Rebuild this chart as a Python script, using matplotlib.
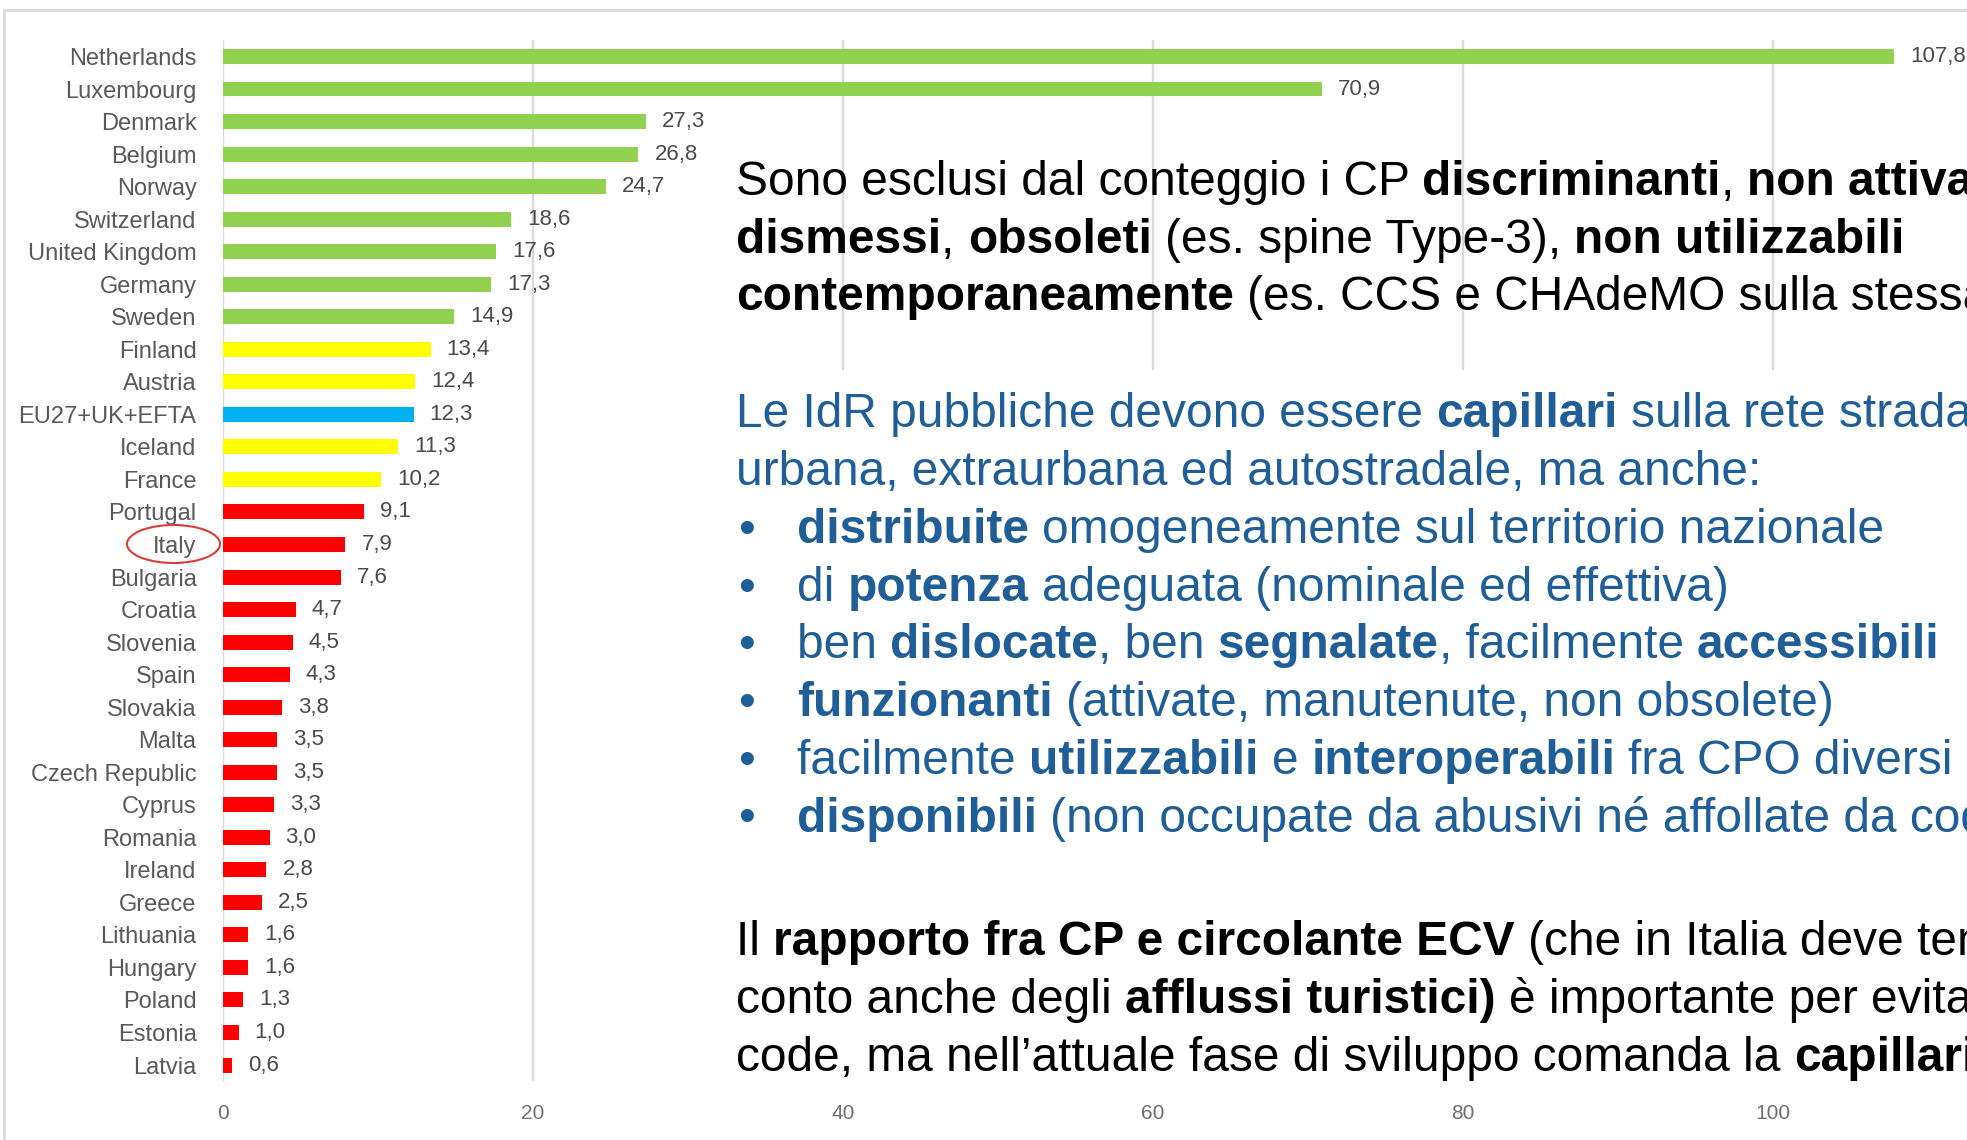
import matplotlib
matplotlib.use('Agg')
import matplotlib.pyplot as plt
from matplotlib.patches import Ellipse, Rectangle
from matplotlib.lines import Line2D
from matplotlib.transforms import IdentityTransform

# data (charging points per 100 km / ratio)
countries = ['Netherlands', 'Luxembourg', 'Denmark', 'Belgium', 'Norway', 'Switzerland',
             'United Kingdom', 'Germany', 'Sweden', 'Finland', 'Austria', 'EU27+UK+EFTA',
             'Iceland', 'France', 'Portugal', 'Italy', 'Bulgaria', 'Croatia', 'Slovenia',
             'Spain', 'Slovakia', 'Malta', 'Czech Republic', 'Cyprus', 'Romania', 'Ireland',
             'Greece', 'Lithuania', 'Hungary', 'Poland', 'Estonia', 'Latvia']
values = [107.8, 70.9, 27.3, 26.8, 24.7, 18.6, 17.6, 17.3, 14.9, 13.4, 12.4, 12.3,
          11.3, 10.2, 9.1, 7.9, 7.6, 4.7, 4.5, 4.3, 3.8, 3.5, 3.5, 3.3, 3.0, 2.8,
          2.5, 1.6, 1.6, 1.3, 1.0, 0.6]
groups = ['high'] * 9 + ['mid', 'mid', 'avg', 'mid', 'mid'] + ['low'] * 18
xticks = [0, 20, 40, 60, 80, 100]

group_colors = {'high': '#92D050', 'mid': '#FFFF00', 'avg': '#00B0F0', 'low': '#FF0000'}

W, H = 1967, 1140
fig = plt.figure(figsize=(W / 100, H / 100), dpi=100)

LABEL_FONT = 'Liberation Sans'
ax_left, ax_top, ax_bot = 223, 40.2, 1081.3
ax = fig.add_axes([ax_left / W, 1 - ax_bot / H, 1 - ax_left / W, (ax_bot - ax_top) / H])
ypos = list(range(len(countries)))
ax.barh(ypos, values, height=0.46, color=[group_colors[g] for g in groups], zorder=2)
ax.set_ylim(len(countries) - 0.5, -0.5)
ax.set_xlim(0, 112.5)
ax.set_xticks(xticks)
ax.set_xticklabels([str(t) for t in xticks], family=LABEL_FONT)
ax.set_yticks(ypos)
ax.set_yticklabels(countries, family=LABEL_FONT)
ax.tick_params(axis='y', length=0, pad=19, labelsize=17, labelcolor='#595959')
ax.tick_params(axis='x', length=0, pad=16, labelsize=15, labelcolor='#6F6F6F')
ax.grid(axis='x', color='#D9D9D9', lw=1.6)
ax.set_axisbelow(True)
for s in ax.spines.values():
    s.set_visible(False)

for i, v in enumerate(values):
    ax.annotate(f'{v:.1f}'.replace('.', ','), (v, i), xytext=(11.5, 0),
                textcoords='offset points', va='center', ha='left',
                fontsize=16, color='#4A4A4A', family=LABEL_FONT)

# slide frame and the white text box that hides the grid
fig.add_artist(Line2D([4 / W, 1], [1 - 10 / H] * 2, transform=fig.transFigure,
                      color='#DDDDDD', lw=2.2, zorder=3))
fig.add_artist(Line2D([4 / W] * 2, [0, 1 - 10 / H], transform=fig.transFigure,
                      color='#DDDDDD', lw=2.2, zorder=3))
fig.add_artist(Rectangle((700 / W, 1 - 1092 / H), 1 - 700 / W, (1092 - 370) / H,
                         transform=fig.transFigure, facecolor='white',
                         edgecolor='none', zorder=5))

# circle around Italy
fig.add_artist(Ellipse((173.5 / W, 1 - 544 / H), 93 / W, 38 / H, transform=fig.transFigure,
                       facecolor='none', edgecolor='#E03A3A', lw=1.5, zorder=6))

# slide text
FONT = 'Liberation Sans'
FS = 34.5
renderer = fig.canvas.get_renderer()


def text_w(s, weight):
    t = fig.text(0, 0, s, fontsize=FS, fontweight=weight, family=FONT)
    w = t.get_window_extent(renderer).width
    t.remove()
    return w


def seg_w(s, weight):
    return text_w('|' + s + '|', weight) - text_w('||', weight)


def draw_line(x, ybase, parts, color):
    for s, bold in parts:
        weight = 'bold' if bold else 'normal'
        body = s.lstrip(' ')
        lead = len(s) - len(body)
        xs = x + (seg_w(' ' * lead, weight) if lead else 0)
        if body:
            fig.text(xs, H - ybase, body, transform=IdentityTransform(), fontsize=FS,
                     fontweight=weight, family=FONT, color=color, va='baseline',
                     ha='left', zorder=10)
        x += seg_w(s, weight)


BLACK = '#000000'
BLUE = '#1F5E96'

block1 = [
    [('Sono esclusi dal conteggio i CP ', 0), ('discriminanti', 1), (', ', 0), ('non attivati,', 1)],
    [('dismessi', 1), (', ', 0), ('obsoleti', 1), (' (es. spine Type-3), ', 0), ('non utilizzabili', 1)],
    [('contemporaneamente', 1), (' (es. CCS e CHAdeMO sulla stessa IdR)', 0)],
]
for line, yb in zip(block1, [195, 253, 310]):
    draw_line(736, yb, line, BLACK)

block2 = [
    [('Le IdR pubbliche devono essere ', 0), ('capillari', 1), (' sulla rete stradale', 0)],
    [('urbana, extraurbana ed autostradale, ma anche:', 0)],
]
for line, yb in zip(block2, [427, 485]):
    draw_line(736, yb, line, BLUE)

bullets = [
    [('distribuite', 1), (' omogeneamente sul territorio nazionale', 0)],
    [('di ', 0), ('potenza', 1), (' adeguata (nominale ed effettiva)', 0)],
    [('ben ', 0), ('dislocate', 1), (', ben ', 0), ('segnalate', 1), (', facilmente ', 0), ('accessibili', 1)],
    [('funzionanti', 1), (' (attivate, manutenute, non obsolete)', 0)],
    [('facilmente ', 0), ('utilizzabili', 1), (' e ', 0), ('interoperabili', 1), (' fra CPO diversi', 0)],
    [('disponibili', 1), (' (non occupate da abusivi né affollate da code)', 0)],
]
for k, line in enumerate(bullets):
    yb = 543 + k * 57.7
    draw_line(738, yb, [('•', 0)], BLUE)
    draw_line(797, yb, line, BLUE)

block3 = [
    [('Il ', 0), ('rapporto fra CP e circolante ECV', 1), (' (che in Italia deve tenere', 0)],
    [('conto anche degli ', 0), ('afflussi turistici)', 1), (' è importante per evitare', 0)],
    [('code, ma nell’attuale fase di sviluppo comanda la ', 0), ('capillarità', 1)],
]
for line, yb in zip(block3, [955, 1013, 1071]):
    draw_line(736, yb, line, BLACK)

fig.savefig('out.png', dpi=100)
